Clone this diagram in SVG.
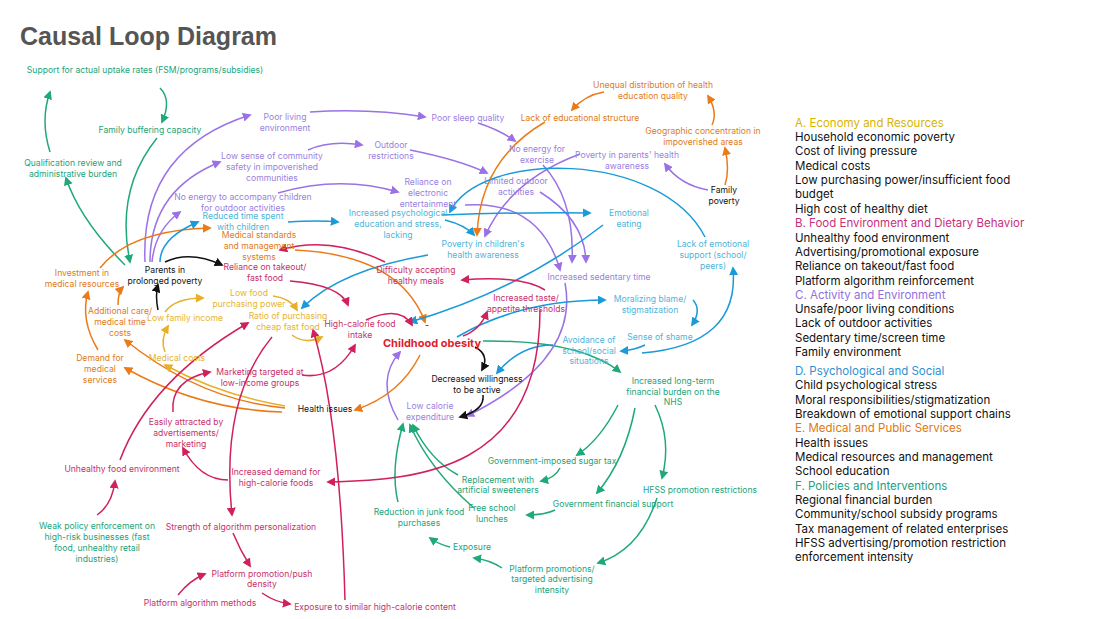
<svg xmlns="http://www.w3.org/2000/svg" width="1100" height="619" viewBox="0 0 1100 619">
<defs>
<style>
text{font-family:Inter,"Liberation Sans",sans-serif;font-size:8.6px;text-anchor:middle}
.g{fill:#22a37a}.p{fill:#9b7fe0}.b{fill:#4fb4d8}.o{fill:#e07b22}.y{fill:#e6b432}.m{fill:#c8306a}.k{fill:#111}
.lg text{text-anchor:start;font-size:11.5px;fill:#111}
path{fill:none;stroke-width:1.5}
.cg{stroke:#1fa878;marker-end:url(#ag)}.cp{stroke:#9b72e6;marker-end:url(#ap)}.cb{stroke:#1a9ad8;marker-end:url(#ab)}
.co{stroke:#ec7a18;marker-end:url(#ao)}.cy{stroke:#e8b02a;marker-end:url(#ay)}.cm{stroke:#d0205e;marker-end:url(#am)}.ck{stroke:#111;marker-end:url(#ak)}
</style>
<marker id="ag" viewBox="0 0 10 10" refX="8" refY="5" markerWidth="6" markerHeight="6" orient="auto"><path d="M0,0L10,5L0,10z" style="fill:#1fa878;stroke:none"/></marker>
<marker id="ap" viewBox="0 0 10 10" refX="8" refY="5" markerWidth="6" markerHeight="6" orient="auto"><path d="M0,0L10,5L0,10z" style="fill:#9b72e6;stroke:none"/></marker>
<marker id="ab" viewBox="0 0 10 10" refX="8" refY="5" markerWidth="6" markerHeight="6" orient="auto"><path d="M0,0L10,5L0,10z" style="fill:#1a9ad8;stroke:none"/></marker>
<marker id="ao" viewBox="0 0 10 10" refX="8" refY="5" markerWidth="6" markerHeight="6" orient="auto"><path d="M0,0L10,5L0,10z" style="fill:#ec7a18;stroke:none"/></marker>
<marker id="ay" viewBox="0 0 10 10" refX="8" refY="5" markerWidth="6" markerHeight="6" orient="auto"><path d="M0,0L10,5L0,10z" style="fill:#e8b02a;stroke:none"/></marker>
<marker id="am" viewBox="0 0 10 10" refX="8" refY="5" markerWidth="6" markerHeight="6" orient="auto"><path d="M0,0L10,5L0,10z" style="fill:#d0205e;stroke:none"/></marker>
<marker id="ak" viewBox="0 0 10 10" refX="8" refY="5" markerWidth="6" markerHeight="6" orient="auto"><path d="M0,0L10,5L0,10z" style="fill:#111;stroke:none"/></marker>
</defs>
<rect width="1100" height="619" fill="#fff"/>
<text x="20" y="45" style="font-size:25px;font-weight:bold;fill:#555;text-anchor:start;font-family:'Liberation Sans',Arial,sans-serif">Causal Loop Diagram</text>

<g id="connectors">
<path class="cg" d="M160,88 Q172,100 162,122"/>
<path class="cg" d="M157,138 Q115,190 130,262"/>
<path class="cg" d="M50,152 Q40,120 50,92"/>
<path class="cg" d="M125,265 Q80,220 66,178"/>
<path class="cg" d="M483,341 Q580,340 620,372"/>
<path class="cg" d="M618,405 Q600,440 577,455"/>
<path class="cg" d="M635,408 Q625,460 597,493"/>
<path class="cg" d="M655,405 Q672,440 662,478"/>
<path class="cg" d="M560,468 Q555,478 541,481"/>
<path class="cg" d="M555,510 Q545,515 527,515"/>
<path class="cg" d="M657,498 Q640,550 598,563"/>
<path class="cg" d="M502,568 Q490,560 474,558"/>
<path class="cg" d="M450,547 Q440,545 430,538"/>
<path class="cg" d="M398,502 Q390,470 403,424"/>
<path class="cg" d="M458,475 Q430,460 413,425"/>
<path class="cg" d="M474,508 Q430,470 410,425"/>
<path class="cm" d="M97,515 Q112,505 115,481"/>
<path class="cp" d="M145,262 Q140,150 250,115"/>
<path class="cp" d="M150,262 Q150,190 220,162"/>
<path class="cp" d="M152,262 Q155,230 180,212"/>
<path class="cp" d="M310,112 Q370,108 425,117"/>
<path class="cp" d="M308,150 Q330,140 362,145"/>
<path class="cp" d="M278,193 Q340,175 398,192"/>
<path class="cp" d="M478,123 Q500,130 515,141"/>
<path class="cp" d="M410,150 Q460,160 487,173"/>
<path class="cp" d="M543,165 Q575,200 572,262"/>
<path class="cp" d="M540,192 Q585,220 586,262"/>
<path class="cp" d="M465,205 Q540,200 560,270"/>
<path class="cp" d="M708,190 Q680,185 665,164"/>
<path class="cp" d="M580,154 Q510,180 485,236"/>
<path class="cp" d="M565,283 Q580,360 467,416"/>
<path class="cp" d="M398,420 Q375,380 400,352"/>
<path class="co" d="M604,92 Q585,95 572,110"/>
<path class="co" d="M712,125 Q718,112 708,96"/>
<path class="co" d="M725,185 Q730,170 725,148"/>
<path class="co" d="M545,122 Q480,160 477,235"/>
<path class="co" d="M100,268 Q130,230 210,228"/>
<path class="co" d="M118,305 Q118,292 123,287"/>
<path class="co" d="M98,350 Q80,320 88,292"/>
<path class="co" d="M282,412 Q200,410 125,368"/>
<path class="co" d="M285,408 Q200,400 125,340"/>
<path class="co" d="M295,250 Q400,255 425,322"/>
<path class="co" d="M420,355 Q400,395 355,410"/>
<path class="cy" d="M165,312 Q175,298 203,298"/>
<path class="cy" d="M165,352 Q160,340 168,326"/>
<path class="cy" d="M273,296 Q290,298 297,310"/>
<path class="cy" d="M292,335 Q305,345 322,337"/>
<path class="cy" d="M285,406 Q220,395 165,365"/>
<path class="cb" d="M160,262 Q160,238 198,222"/>
<path class="cb" d="M288,222 Q320,220 338,222"/>
<path class="cb" d="M442,215 Q520,212 590,213"/>
<path class="cb" d="M445,220 Q465,225 474,235"/>
<path class="cb" d="M705,237 C660,150 480,150 450,212"/>
<path class="cb" d="M603,225 Q520,290 410,322"/>
<path class="cb" d="M428,255 Q340,270 302,308"/>
<path class="cb" d="M457,337 Q520,300 605,300"/>
<path class="cb" d="M693,300 Q702,310 692,325"/>
<path class="cb" d="M645,345 Q635,350 621,351"/>
<path class="cb" d="M553,345 Q520,345 497,373"/>
<path class="cb" d="M642,353 Q740,345 733,268"/>
<path class="cm" d="M290,281 Q340,285 348,305"/>
<path class="cm" d="M385,262 Q330,235 280,250"/>
<path class="cm" d="M545,290 Q520,275 462,280"/>
<path class="cm" d="M366,320 Q400,305 412,325"/>
<path class="cm" d="M463,336 Q480,330 487,312"/>
<path class="cm" d="M120,460 Q150,380 248,323"/>
<path class="cm" d="M173,412 Q170,380 210,372"/>
<path class="cm" d="M302,375 Q335,380 355,345"/>
<path class="cm" d="M228,480 Q200,480 183,448"/>
<path class="cm" d="M540,310 C540,470 420,480 328,482"/>
<path class="cm" d="M272,337 Q220,400 232,515"/>
<path class="cm" d="M233,533 Q240,550 250,566"/>
<path class="cm" d="M178,595 Q190,580 205,574"/>
<path class="cm" d="M262,593 Q275,602 290,604"/>
<path class="cm" d="M345,600 Q340,420 313,330"/>
<path class="ck" d="M165,262 Q190,250 222,265"/>
<path class="ck" d="M158,310 Q155,295 158,285"/>
<path class="ck" d="M475,347 Q490,355 482,370"/>
<path class="ck" d="M483,395 Q485,410 460,417"/>
</g>

<g id="n1"><text class="g" x="145" y="73">Support for actual uptake rates (FSM/programs/subsidies)</text></g>
<g id="n2"><text class="g" x="150" y="133">Family buffering capacity</text></g>
<g id="n3"><text class="g" x="73" y="166">Qualification review and</text><text class="g" x="73" y="177">administrative burden</text></g>
<g id="n4"><text class="p" x="285" y="120">Poor living</text><text class="p" x="285" y="131">environment</text></g>
<g id="n5"><text class="p" x="272" y="159">Low sense of community</text><text class="p" x="272" y="170">safety in impoverished</text><text class="p" x="272" y="181">communities</text></g>
<g id="n6"><text class="p" x="243" y="200">No energy to accompany children</text><text class="p" x="243" y="211">for outdoor activities</text></g>
<g id="n7"><text class="b" x="243" y="219">Reduced time spent</text><text class="b" x="243" y="230">with children</text></g>
<g id="n8"><text class="o" x="259" y="238">Medical standards</text><text class="o" x="259" y="249">and management</text><text class="o" x="259" y="260">systems</text></g>
<g id="n9"><text class="m" x="265" y="270">Reliance on takeout/</text><text class="m" x="265" y="281">fast food</text></g>
<g id="n10"><text class="k" x="165" y="273">Parents in</text><text class="k" x="165" y="284">prolonged poverty</text></g>
<g id="n11"><text class="o" x="82" y="276">Investment in</text><text class="o" x="82" y="287">medical resources</text></g>
<g id="n12"><text class="y" x="249" y="296">Low food</text><text class="y" x="249" y="307">purchasing power</text></g>
<g id="n13"><text class="o" x="120" y="314">Additional care/</text><text class="o" x="120" y="325">medical time</text><text class="o" x="120" y="336">costs</text></g>
<g id="n14"><text class="y" x="185" y="321">Low family income</text></g>
<g id="n15"><text class="y" x="288" y="319">Ratio of purchasing</text><text class="y" x="288" y="330">cheap fast food</text></g>
<g id="n16"><text class="m" x="360" y="327">High-calorie food</text><text class="m" x="360" y="338">intake</text></g>
<g id="n17"><text class="o" x="100" y="361">Demand for</text><text class="o" x="100" y="372">medical</text><text class="o" x="100" y="383">services</text></g>
<g id="n18"><text class="y" x="177" y="361">Medical costs</text></g>
<g id="n19"><text class="m" x="260" y="375">Marketing targeted at</text><text class="m" x="260" y="386">low-income groups</text></g>
<g id="n20"><text class="k" x="325" y="412">Health issues</text></g>
<g id="n21"><text class="m" x="186" y="425">Easily attracted by</text><text class="m" x="186" y="436">advertisements/</text><text class="m" x="186" y="447">marketing</text></g>
<g id="n22"><text class="m" x="122" y="472">Unhealthy food environment</text></g>
<g id="n23"><text class="m" x="276" y="475">Increased demand for</text><text class="m" x="276" y="486">high-calorie foods</text></g>
<g id="n24"><text class="g" x="97" y="529">Weak policy enforcement on</text><text class="g" x="97" y="540">high-risk businesses (fast</text><text class="g" x="97" y="551">food, unhealthy retail</text><text class="g" x="97" y="562">industries)</text></g>
<g id="n25"><text class="m" x="241" y="530">Strength of algorithm personalization</text></g>
<g id="n26"><text class="m" x="262" y="577">Platform promotion/push</text><text class="m" x="262" y="587">density</text></g>
<g id="n27"><text class="m" x="200" y="606">Platform algorithm methods</text></g>
<g id="n28"><text class="m" x="375" y="610">Exposure to similar high-calorie content</text></g>
<g id="n29"><text class="p" x="468" y="121">Poor sleep quality</text></g>
<g id="n30"><text class="p" x="391" y="148">Outdoor</text><text class="p" x="391" y="159">restrictions</text></g>
<g id="n31"><text class="o" x="580" y="121">Lack of educational structure</text></g>
<g id="n32"><text class="o" x="653" y="88">Unequal distribution of health</text><text class="o" x="653" y="99">education quality</text></g>
<g id="n33"><text class="o" x="703" y="134">Geographic concentration in</text><text class="o" x="703" y="145">impoverished areas</text></g>
<g id="n34"><text class="p" x="537" y="152">No energy for</text><text class="p" x="537" y="163">exercise</text></g>
<g id="n35"><text class="p" x="627" y="158">Poverty in parents' health</text><text class="p" x="627" y="169">awareness</text></g>
<g id="n36"><text class="p" x="428" y="185">Reliance on</text><text class="p" x="428" y="196">electronic</text><text class="p" x="428" y="207">entertainment</text></g>
<g id="n37"><text class="p" x="516" y="184">Limited outdoor</text><text class="p" x="516" y="195">activities</text></g>
<g id="n38"><text class="k" x="724" y="193">Family</text><text class="k" x="724" y="204">poverty</text></g>
<g id="n39"><text class="b" x="398" y="216">Increased psychological</text><text class="b" x="398" y="227">education and stress,</text><text class="b" x="398" y="238">lacking</text></g>
<g id="n40"><text class="b" x="629" y="216">Emotional</text><text class="b" x="629" y="227">eating</text></g>
<g id="n41"><text class="b" x="483" y="247">Poverty in children's</text><text class="b" x="483" y="258">health awareness</text></g>
<g id="n42"><text class="m" x="416" y="273">Difficulty accepting</text><text class="m" x="416" y="284">healthy meals</text></g>
<g id="n43"><text class="p" x="599" y="280">Increased sedentary time</text></g>
<g id="n44"><text class="b" x="713" y="247">Lack of emotional</text><text class="b" x="713" y="258">support (school/</text><text class="b" x="713" y="269">peers)</text></g>
<g id="n45"><text class="m" x="526" y="301">Increased taste/</text><text class="m" x="526" y="312">appetite thresholds</text></g>
<g id="n46"><text class="b" x="650" y="302">Moralizing blame/</text><text class="b" x="650" y="313">stigmatization</text></g>
<g id="n47"><text x="432" y="347" style="font-size:11px;font-weight:bold;fill:#e01c2c">Childhood obesity</text><text class="k" x="427" y="328">-</text></g>
<g id="n48"><text class="b" x="660" y="340">Sense of shame</text></g>
<g id="n49"><text class="b" x="589" y="343">Avoidance of</text><text class="b" x="589" y="354">school/social</text><text class="b" x="589" y="364">situations</text></g>
<g id="n50"><text class="k" x="477" y="382">Decreased willingness</text><text class="k" x="477" y="393">to be active</text></g>
<g id="n51"><text class="g" x="673" y="384">Increased long-term</text><text class="g" x="673" y="395">financial burden on the</text><text class="g" x="673" y="405">NHS</text></g>
<g id="n52"><text class="p" x="430" y="409">Low calorie</text><text class="p" x="430" y="420">expenditure</text></g>
<g id="n53"><text class="g" x="552" y="464">Government-imposed sugar tax</text></g>
<g id="n54"><text class="g" x="498" y="483">Replacement with</text><text class="g" x="498" y="493">artificial sweeteners</text></g>
<g id="n55"><text class="g" x="700" y="493">HFSS promotion restrictions</text></g>
<g id="n56"><text class="g" x="613" y="507">Government financial support</text></g>
<g id="n57"><text class="g" x="419" y="515">Reduction in junk food</text><text class="g" x="419" y="526">purchases</text></g>
<g id="n58"><text class="g" x="492" y="511">Free school</text><text class="g" x="492" y="522">lunches</text></g>
<g id="n59"><text class="g" x="472" y="550">Exposure</text></g>
<g id="n60"><text class="g" x="552" y="572">Platform promotions/</text><text class="g" x="552" y="582">targeted advertising</text><text class="g" x="552" y="593">intensity</text></g>

<g id="legend" class="lg">
<text x="795" y="127" style="fill:#d8b400">A. Economy and Resources</text>
<text x="795" y="141">Household economic poverty</text>
<text x="795" y="155">Cost of living pressure</text>
<text x="795" y="170">Medical costs</text>
<text x="795" y="184">Low purchasing power/insufficient food</text>
<text x="795" y="198">budget</text>
<text x="795" y="213">High cost of healthy diet</text>
<text x="795" y="227" style="fill:#c8307a">B. Food Environment and Dietary Behavior</text>
<text x="795" y="242">Unhealthy food environment</text>
<text x="795" y="256">Advertising/promotional exposure</text>
<text x="795" y="270">Reliance on takeout/fast food</text>
<text x="795" y="285">Platform algorithm reinforcement</text>
<text x="795" y="299" style="fill:#9070e0">C. Activity and Environment</text>
<text x="795" y="313">Unsafe/poor living conditions</text>
<text x="795" y="327">Lack of outdoor activities</text>
<text x="795" y="342">Sedentary time/screen time</text>
<text x="795" y="356">Family environment</text>
<text x="795" y="375" style="fill:#3090d0">D. Psychological and Social</text>
<text x="795" y="389">Child psychological stress</text>
<text x="795" y="404">Moral responsibilities/stigmatization</text>
<text x="795" y="418">Breakdown of emotional support chains</text>
<text x="795" y="432" style="fill:#e07810">E. Medical and Public Services</text>
<text x="795" y="447">Health issues</text>
<text x="795" y="461">Medical resources and management</text>
<text x="795" y="475">School education</text>
<text x="795" y="490" style="fill:#20a080">F. Policies and Interventions</text>
<text x="795" y="504">Regional financial burden</text>
<text x="795" y="518">Community/school subsidy programs</text>
<text x="795" y="533">Tax management of related enterprises</text>
<text x="795" y="547">HFSS advertising/promotion restriction</text>
<text x="795" y="561">enforcement intensity</text>
</g>
</svg>
